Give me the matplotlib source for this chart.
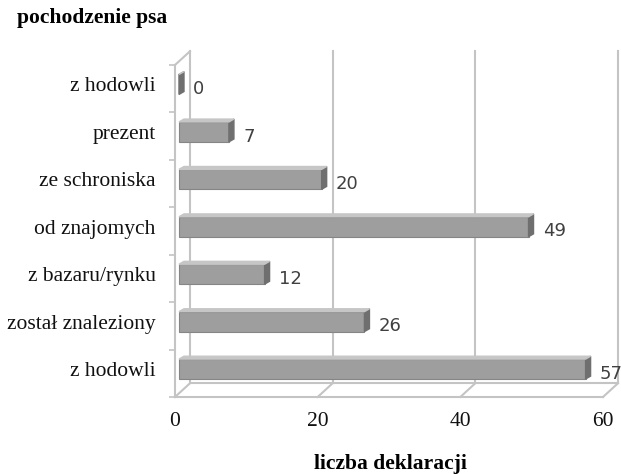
import matplotlib.pyplot as plt
import numpy as np

# data: bottom -> top as drawn
categories = ['z hodowli', 'został znaleziony', 'z bazaru/rynku', 'od znajomych',
              'ze schroniska', 'prezent', 'z hodowli']
values = [57, 26, 12, 49, 20, 7, 0]
xticks = [0, 20, 40, 60]

W, H = 621, 474
fig = plt.figure(figsize=(W / 100, H / 100), dpi=100)
# axes box: front floor from x=0 (px 175) to x=60 (px 603), y from px 397 up to 65
ax = fig.add_axes([175 / W, (H - 397) / H, (603 - 175) / W, (397 - 65) / H])
y0, y1 = -0.59, 6.41
ax.set_xlim(0, 60)
ax.set_ylim(y0, y1)

grid = '#c4c4c4'
depth_x, depth_y = 2.1, 0.29   # offset of back wall

# spines (front floor + front left wall)
for s in ['top', 'right']:
    ax.spines[s].set_visible(False)
for s in ['left', 'bottom']:
    ax.spines[s].set_color(grid)
    ax.spines[s].set_linewidth(1.5)

# back wall verticals, floor diagonals, back floor line
for t in xticks:
    ax.plot([t + depth_x, t + depth_x], [y0 + depth_y, y1 + depth_y], color=grid, lw=1.5, clip_on=False, zorder=1)
    ax.plot([t, t + depth_x], [y0, y0 + depth_y], color=grid, lw=1.5, clip_on=False, zorder=1)
ax.plot([depth_x, 60 + depth_x], [y0 + depth_y, y0 + depth_y], color=grid, lw=1.5, clip_on=False, zorder=1)
ax.plot([0, depth_x], [y1, y1 + depth_y], color=grid, lw=1.5, clip_on=False, zorder=1)

# ticks
ax.set_xticks(xticks)
ax.set_xticklabels([str(t) for t in xticks], family='Liberation Serif', fontsize=15.5, color='#111111')
ax.tick_params(axis='x', length=0, pad=11)
ypos = np.arange(len(categories))
ax.set_yticks(ypos)
ax.set_yticklabels(categories, family='Liberation Serif', fontsize=15.5, color='#111111')
ax.tick_params(axis='y', which='major', length=0, pad=14)
ax.set_yticks(y0 + np.arange(8), minor=True)
ax.tick_params(axis='y', which='minor', length=4, width=1.2, color=grid, direction='out')

# 3D-looking bars
x0 = 0.56
h = 0.42
bx, by = 0.7, 0.06
ax.barh(ypos, values, left=x0, height=h, color='#9e9e9e', edgecolor='#858585', lw=0.8, zorder=3, clip_on=False)
for c, v in zip(ypos, values):
    lo, hi = c - h / 2, c + h / 2
    xe = x0 + v
    ax.fill([xe, xe + bx, xe + bx, xe], [lo, lo + by, hi + by, hi], color='#6f6f6f', zorder=4, clip_on=False)
    ax.fill([x0, xe, xe + bx, x0 + bx], [hi, hi, hi + by, hi + by], color='#c6c6c6', zorder=4, clip_on=False)
    ax.text(xe + bx + 1.3, c - 0.1, str(v), family='DejaVu Sans', fontsize=13, color='#404040',
            ha='left', va='center', clip_on=False)

fig.text(17 / W, 1 - 18 / H, 'pochodzenie psa', family='Liberation Serif', fontweight='bold',
         fontsize=15.5, ha='left', va='center')
fig.text(390 / W, 1 - 464 / H, 'liczba deklaracji', family='Liberation Serif', fontweight='bold',
         fontsize=15.5, ha='center', va='center')

fig.savefig('out.png', dpi=100)
